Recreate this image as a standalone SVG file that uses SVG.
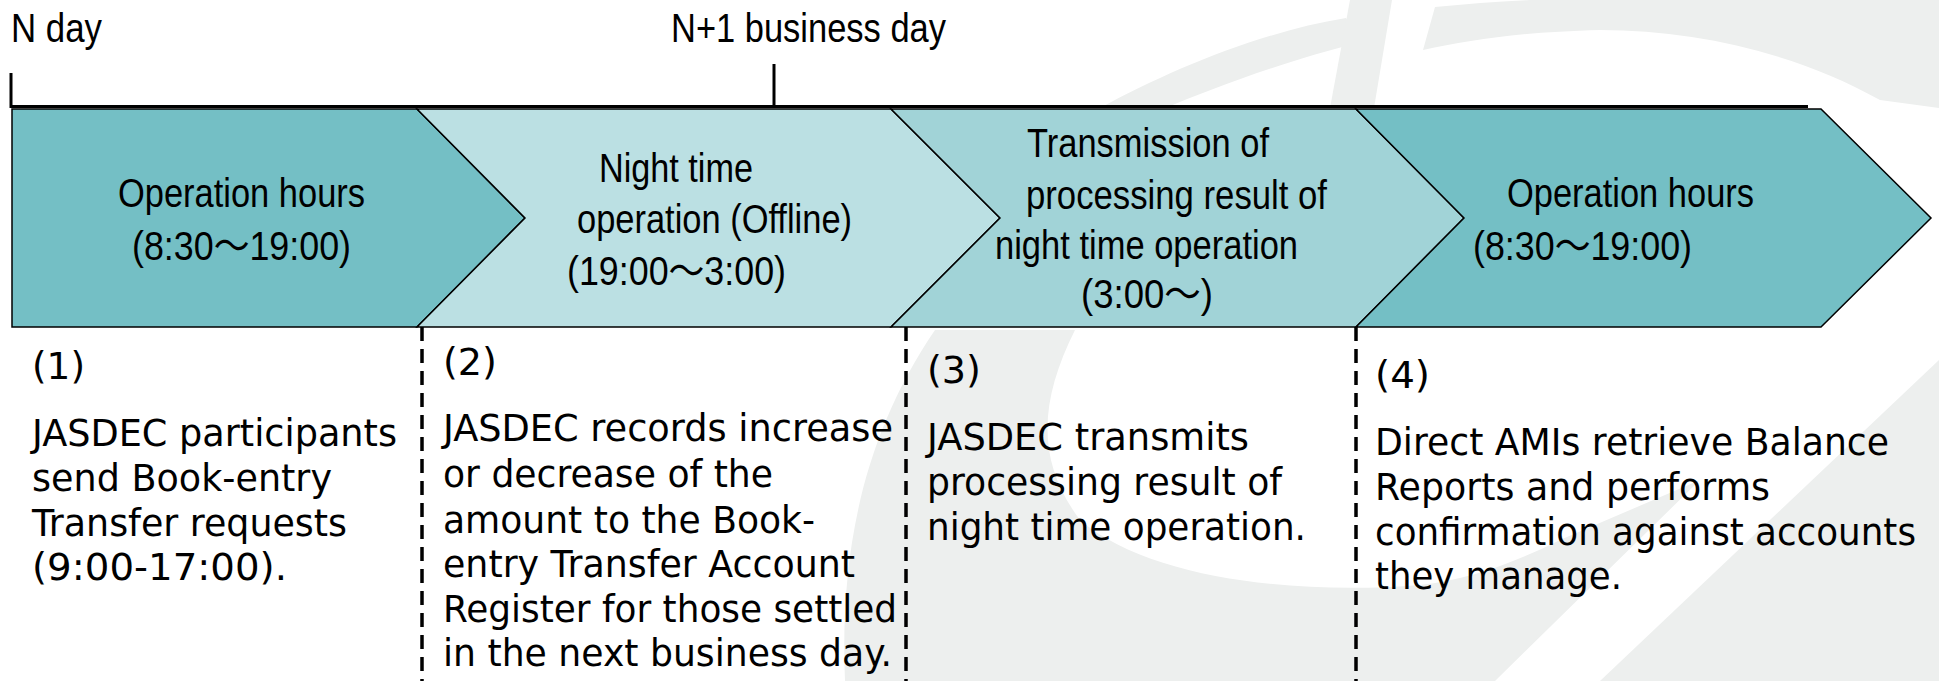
<svg xmlns="http://www.w3.org/2000/svg" width="1939" height="681" viewBox="0 0 1939 681">
<style>
.wm{fill:#EDEFEE;stroke:none}
.band{stroke:#000;stroke-width:1.5;stroke-linejoin:miter}
.c1{fill:#74BFC5}.c2{fill:#BBE0E3}.c3{fill:#A1D3D7}
.t{font-family:"Liberation Sans","Noto Sans CJK JP",sans-serif;font-size:40px;fill:#000}
.b{font-family:"DejaVu Sans","Verdana",sans-serif;font-size:37px;fill:#000}
.axis{stroke:#000;stroke-width:3;fill:none}
.dash{stroke:#000;stroke-width:3.5;stroke-dasharray:14 8;fill:none}
</style>
<rect width="1939" height="681" fill="#fff"/>
<g id="watermark">
<path class="wm" d="M845 681 C840 560 860 440 935 330 L1075 330 C1040 400 1035 460 1080 520 C1150 580 1300 595 1420 585 C1470 580 1520 560 1560 540 L1700 480 L1495 681 Z"/>
<path class="wm" d="M1600 681 L1939 360 L1939 681 Z"/>
<path class="wm" d="M1100 108 C1170 70 1260 32 1346 18 L1362 42 C1280 62 1210 90 1165 108 Z"/>
<path class="wm" d="M1350 0 L1392 0 L1374 108 L1330 108 Z"/>
<path class="wm" d="M1423 50 L1435 7 C1600 -10 1780 0 1880 0 L1939 0 L1939 108 L1880 100 C1800 55 1700 30 1600 30 C1520 32 1470 40 1423 50 Z"/>
</g>
<g id="timeline">
<line class="axis" x1="11" y1="106.5" x2="1808" y2="106.5"/>
<line class="axis" x1="11" y1="73" x2="11" y2="108"/>
<line class="axis" x1="774" y1="64" x2="774" y2="108"/>
<text class="t" x="11" y="42" textLength="91" lengthAdjust="spacingAndGlyphs">N day</text>
<text class="t" x="671" y="42" textLength="275" lengthAdjust="spacingAndGlyphs">N+1 business day</text>
</g>
<g id="phase1">
<polygon class="band c1" points="12,109 417,109 525,218 417,327 12,327"/>
<text class="t" x="118" y="207" textLength="247" lengthAdjust="spacingAndGlyphs">Operation hours</text>
<text class="t" x="132" y="260" textLength="219" lengthAdjust="spacingAndGlyphs">(8:30～19:00)</text>
</g>
<g id="phase2">
<polygon class="band c2" points="417,109 891,109 1000,218 891,327 417,327 525,218"/>
<text class="t" x="599" y="182" textLength="154" lengthAdjust="spacingAndGlyphs">Night time</text>
<text class="t" x="577" y="233" textLength="275" lengthAdjust="spacingAndGlyphs">operation (Offline)</text>
<text class="t" x="567" y="285" textLength="219" lengthAdjust="spacingAndGlyphs">(19:00～3:00)</text>
</g>
<g id="phase3">
<polygon class="band c3" points="891,109 1356,109 1464,218 1356,327 891,327 1000,218"/>
<text class="t" x="1027" y="157" textLength="242" lengthAdjust="spacingAndGlyphs">Transmission of</text>
<text class="t" x="1026" y="209" textLength="301" lengthAdjust="spacingAndGlyphs">processing result of</text>
<text class="t" x="995" y="259" textLength="303" lengthAdjust="spacingAndGlyphs">night time operation</text>
<text class="t" x="1081" y="308" textLength="132" lengthAdjust="spacingAndGlyphs">(3:00～)</text>
</g>
<g id="phase4">
<polygon class="band c1" points="1356,109 1821,109 1931,218 1821,327 1356,327 1464,218"/>
<text class="t" x="1507" y="207" textLength="247" lengthAdjust="spacingAndGlyphs">Operation hours</text>
<text class="t" x="1473" y="260" textLength="219" lengthAdjust="spacingAndGlyphs">(8:30～19:00)</text>
</g>
<g id="connectors">
<line class="dash" x1="422" y1="327" x2="422" y2="681"/>
<line class="dash" x1="906" y1="327" x2="906" y2="681"/>
<line class="dash" x1="1356" y1="327" x2="1356" y2="681"/>
</g>
<g id="desc1">
<text class="b" x="32" y="379" textLength="53" lengthAdjust="spacingAndGlyphs">(1)</text>
<text class="b" x="32" y="446" textLength="365" lengthAdjust="spacingAndGlyphs">JASDEC participants</text>
<text class="b" x="32" y="491" textLength="300" lengthAdjust="spacingAndGlyphs">send Book-entry</text>
<text class="b" x="32" y="536" textLength="315" lengthAdjust="spacingAndGlyphs">Transfer requests</text>
<text class="b" x="32" y="580" textLength="255" lengthAdjust="spacingAndGlyphs">(9:00-17:00).</text>
</g>
<g id="desc2">
<text class="b" x="443" y="375" textLength="54" lengthAdjust="spacingAndGlyphs">(2)</text>
<text class="b" x="443" y="441" textLength="450" lengthAdjust="spacingAndGlyphs">JASDEC records increase</text>
<text class="b" x="443" y="487" textLength="330" lengthAdjust="spacingAndGlyphs">or decrease of the</text>
<text class="b" x="443" y="533" textLength="372" lengthAdjust="spacingAndGlyphs">amount to the Book-</text>
<text class="b" x="443" y="577" textLength="412" lengthAdjust="spacingAndGlyphs">entry Transfer Account</text>
<text class="b" x="443" y="622" textLength="454" lengthAdjust="spacingAndGlyphs">Register for those settled</text>
<text class="b" x="443" y="666" textLength="449" lengthAdjust="spacingAndGlyphs">in the next business day.</text>
</g>
<g id="desc3">
<text class="b" x="927" y="383" textLength="54" lengthAdjust="spacingAndGlyphs">(3)</text>
<text class="b" x="927" y="450" textLength="322" lengthAdjust="spacingAndGlyphs">JASDEC transmits</text>
<text class="b" x="927" y="495" textLength="355" lengthAdjust="spacingAndGlyphs">processing result of</text>
<text class="b" x="927" y="540" textLength="379" lengthAdjust="spacingAndGlyphs">night time operation.</text>
</g>
<g id="desc4">
<text class="b" x="1375" y="388" textLength="55" lengthAdjust="spacingAndGlyphs">(4)</text>
<text class="b" x="1375" y="455" textLength="514" lengthAdjust="spacingAndGlyphs">Direct AMIs retrieve Balance</text>
<text class="b" x="1375" y="500" textLength="395" lengthAdjust="spacingAndGlyphs">Reports and performs</text>
<text class="b" x="1375" y="545" textLength="541" lengthAdjust="spacingAndGlyphs">confirmation against accounts</text>
<text class="b" x="1375" y="589" textLength="247" lengthAdjust="spacingAndGlyphs">they manage.</text>
</g>
</svg>
